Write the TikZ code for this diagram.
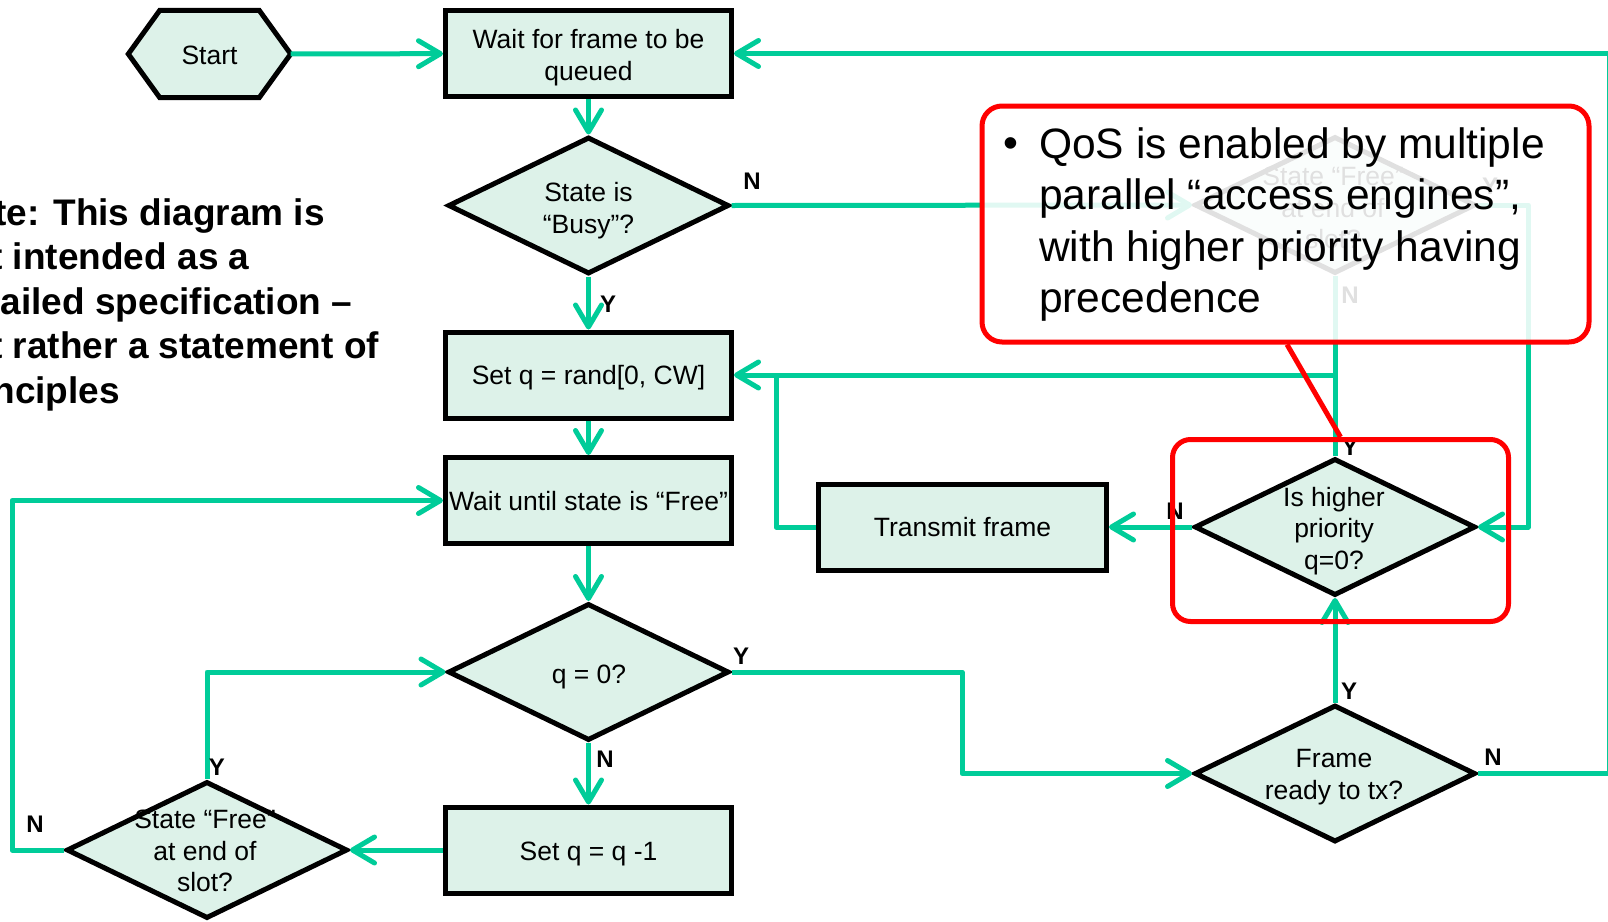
\documentclass[tikz,border=0pt]{standalone}
\usepackage{fontspec}
\setmainfont{Liberation Sans}
\usetikzlibrary{arrows.meta,shapes.geometric,backgrounds,calc}
\definecolor{flow}{RGB}{0,204,153}
\definecolor{mint}{RGB}{221,242,233}
\definecolor{alertred}{RGB}{255,0,0}
\newcommand\bxfont{\fontsize{26.5}{31.8}\selectfont}
\newcommand\ynfont{\fontsize{24}{28}\selectfont\bfseries}
\newcommand\leftnotefont{\fontsize{37}{44.6}\selectfont\bfseries}
\newcommand\callfont{\fontsize{42.5}{51.5}\selectfont}

\begin{document}
\begin{tikzpicture}[x=1pt,y=-1pt,
  shapeline/.style={draw=black,line width=5pt,fill=mint},
  procbox/.style={shapeline,rectangle,minimum width=286pt,minimum height=86pt,inner sep=0pt},
  decision/.style={shapeline,diamond,minimum width=281pt,minimum height=137pt,inner sep=0pt},
  dtext/.style={font=\bxfont,align=center,inner sep=0pt},
  flowline/.style={draw=flow,line width=5pt,line join=round},
  conn/.style={flowline,-{Straight Barb[length=22pt,width=26pt,round]}},
  yn/.style={font=\ynfont,inner sep=0pt},
  redframe/.style={draw=alertred,line width=5pt},
]
\useasboundingbox (0,0) rectangle (1608,921);

% side remark
\node[anchor=north west,inner sep=0pt,align=left,font=\leftnotefont] (remark) at (-55,198)
  {Note: This diagram is\\not intended as a\\detailed specification –\\but rather a statement of\\principles};

% start terminal (hexagon drawn behind its text node)
\node[minimum width=162pt,minimum height=87pt,inner sep=0pt] (start) at (209.5,54) {};
\node[dtext] (startT) at (209.5,55) {Start};
\begin{scope}[on background layer]
  \path[shapeline] (start.west) -- ([xshift=31.5pt]start.north west) -- ([xshift=-31.5pt]start.north east)
    -- (start.east) -- ([xshift=-31.5pt]start.south east) -- ([xshift=31.5pt]start.south west) -- cycle;
\end{scope}

% process boxes
\node[procbox] (wait) at (588.5,53.5) {};
\node[procbox] (rand) at (588.5,375) {};
\node[procbox] (free) at (588.5,500.5) {};
\node[procbox] (dec)  at (588.5,850) {};
\node[procbox,minimum width=288pt] (tx) at (962.5,527) {};

\node[dtext] (waitT) at (588.5,57.5) {Wait for frame to be\\queued};
\node[dtext] (randT) at (588.5,378) {Set q = rand[0, CW]};
\node[dtext] (freeT) at (588.5,501.5) {Wait until state is “Free”};
\node[dtext] (decT)  at (588.5,854) {Set q = q -1};
\node[dtext] (txT)   at (962.5,527.5) {Transmit frame};

% decisions
\node[decision] (busy)  at (588.5,205.5) {};
\node[decision] (qz)    at (588.5,672) {};
\node[decision] (slot)  at (207,850) {};
\node[decision] (hp)    at (1335,527) {};
\node[decision] (ready) at (1335,773.5) {};
\node[decision] (fad)   at (1335,205) {};

\node[dtext] (busyT)  at (588.5,211) {State is\\“Busy”?};
\node[dtext] (qzT)    at (589,677) {q = 0?};
\node[dtext] (slotT)  at (205,851) {State “Free”\\at end of\\slot?};
\node[dtext] (hpT)    at (1334,531) {Is higher\\priority\\q=0?};
\node[dtext] (readyT) at (1334,777) {Frame\\ready to tx?};
\node[dtext] (fadT)   at (1333,208) {State “Free”\\at end of\\slot?};

% junction points
\coordinate (jq)   at (962,720);
\coordinate (lft)  at (12,850);
\coordinate (rgt)  at (1609,400);
\coordinate (jt)   at (776,375);
\coordinate (rgt2) at (1528,400);

% connectors
\draw[conn] (start) -- (wait);
\draw[conn] (wait) -- (busy);
\draw[conn] (busy) -- (rand);
\draw[conn] (busy.east) -- (fad.west);
\draw[conn] (rand) -- (free);
\draw[conn] (free) -- (qz);
\draw[conn] (qz.east) -| (jq) |- (ready.west);
\draw[conn] (qz) -- (dec);
\draw[conn] (dec.west) -- (slot.east);
\draw[conn] (slot.north) |- (qz.west);
\draw[conn] (slot.west) -- (lft) |- (free.west);
\draw[conn] (ready.north) -- (hp.south);
\draw[conn] (ready.east) -| (rgt) |- (wait.east);
\draw[conn] (hp.west) -- (tx.east);
\draw[flowline] (tx.west) -| (jt);
\draw[conn] (hp.north) |- (rand.east);
\draw[flowline] (fad.south) -- (fad.south |- rand.east);
\draw[conn] (fad.east) -| (rgt2) |- (hp.east);

% branch labels
\node[yn] (yBusy)  at (608,304) {Y};
\node[yn] (nBusy)  at (752,181) {N};
\node[yn] (yQz)    at (741,656) {Y};
\node[yn] (nQz)    at (605,759) {N};
\node[yn] (ySlot)  at (217,767) {Y};
\node[yn] (nSlot)  at (35,824) {N};
\node[yn] (yReady) at (1349,691) {Y};
\node[yn] (nReady) at (1493,757) {N};
\node[yn] (yHp)    at (1350,447) {Y};
\node[yn] (nHp)    at (1175,511) {N};
\node[yn] (nFad)   at (1350,295) {N};
\node[yn] (yFad)   at (1490,186) {Y};

% callout
\node[redframe,rounded corners=20pt,fill=white,fill opacity=0.88,minimum width=607pt,minimum height=236pt,inner sep=0pt] (callout) at (1285.5,224) {};
\node[font=\callfont,inner sep=0pt,anchor=base] (bullet) at (1011,157) {•};
\node[font=\callfont,inner sep=0pt,anchor=north west,align=left] (calltext) at (1039,127)
  {QoS is enabled by multiple\\parallel “access engines”,\\with higher priority having\\precedence};

\node[redframe,rounded corners=18pt,minimum width=336pt,minimum height=182pt,inner sep=0pt] (hpframe) at (1340.5,530.5) {};
\draw[redframe] ([xshift=1.5pt]callout.south) -- (hpframe.north);
\end{tikzpicture}
\end{document}
